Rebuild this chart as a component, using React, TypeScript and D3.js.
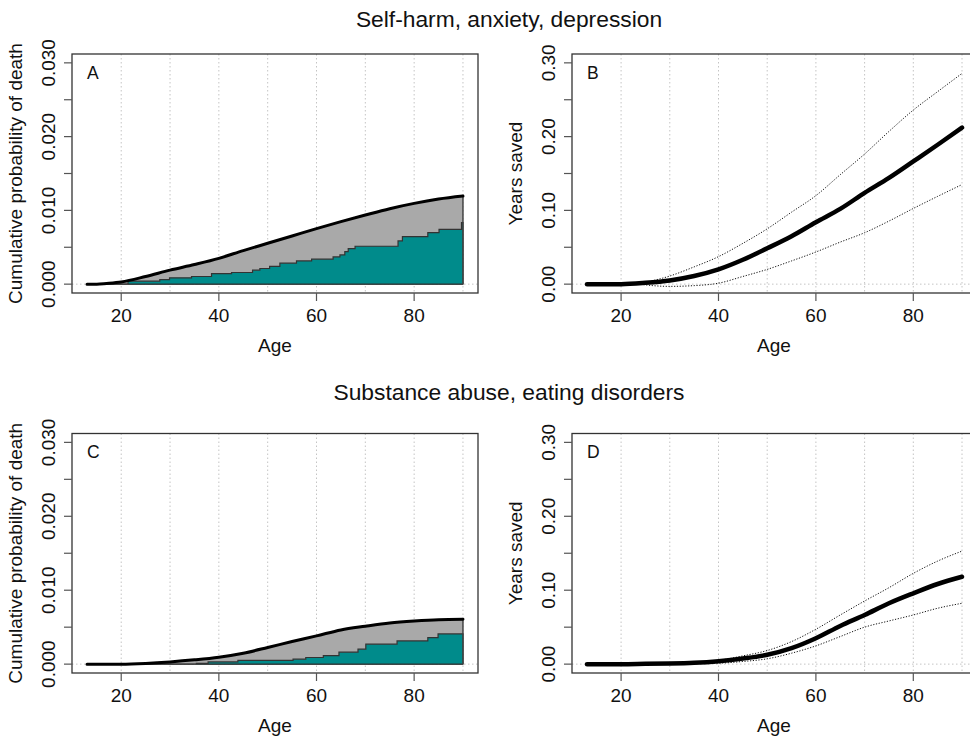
import * as d3 from "d3";

// ---- data ----
const ages = [13, 15, 17, 20, 25, 30, 35, 40, 45, 50, 55, 60, 65, 70, 75, 80, 85, 90];

// A: self-harm, anxiety, depression - cumulative probability of death
const probTotalA = [0, 0, 0.0001, 0.0003, 0.00104, 0.0019, 0.00266, 0.0035, 0.00455, 0.00554, 0.00653, 0.00752, 0.00847, 0.00937, 0.01023, 0.01095, 0.01153, 0.01194];
const stepAgesA = [13, 21.4, 27.9, 29.9, 34.4, 38.5, 42.6, 46.9, 48.4, 50.4, 52.5, 55.9, 59.0, 63.4, 64.8, 65.8, 66.5, 67.9, 76.7, 77.6, 82.8, 85.1, 89.7, 90];
const stepValsA = [0, 0.0004, 0.0006, 0.00086, 0.00104, 0.00144, 0.00158, 0.0019, 0.00212, 0.0024, 0.00284, 0.00315, 0.00338, 0.00369, 0.00396, 0.0044, 0.00482, 0.00514, 0.00586, 0.00644, 0.00698, 0.00743, 0.00833, 0.00833];

// B: years saved
const ciAgesB = [24, 25, 30, 35, 40, 45, 50, 55, 60, 65, 70, 75, 80, 85, 90];
const savedB = [0, 0, 0, 0, 0.0018, 0.005, 0.011, 0.02, 0.033, 0.0486, 0.065, 0.084, 0.102, 0.1237, 0.144, 0.1664, 0.189, 0.2123];
const upperB = [0, 0.002, 0.011, 0.0234, 0.0373, 0.0553, 0.075, 0.0976, 0.12, 0.1484, 0.1764, 0.207, 0.236, 0.261, 0.2857];
const lowerB = [0, -0.001, -0.003, -0.002, 0.0013, 0.0104, 0.02, 0.0315, 0.0436, 0.057, 0.0697, 0.0855, 0.1026, 0.119, 0.135];

// C: substance abuse, eating disorders
const probTotalC = [0, 0, 0, 0, 0.0001, 0.0003, 0.00058, 0.00094, 0.00148, 0.00225, 0.00306, 0.00382, 0.00463, 0.00513, 0.00557, 0.00584, 0.00602, 0.00607];
const stepAgesC = [13, 35.4, 37.8, 43.9, 55.2, 57.8, 61.4, 64.6, 68.5, 70.1, 76.5, 82.8, 84.9, 90];
const stepValsC = [0, 0.0001, 0.0003, 0.0005, 0.00067, 0.0009, 0.00116, 0.00162, 0.00202, 0.0027, 0.00314, 0.00359, 0.00409, 0.00409];

// D: years saved
const ciAgesD = [35, 40, 45, 50, 55, 60, 65, 70, 75, 80, 85, 90];
const savedD = [0, 0, 0, 0, 0.0004, 0.0008, 0.0018, 0.004, 0.0076, 0.0126, 0.0216, 0.035, 0.0517, 0.0665, 0.0823, 0.0958, 0.1084, 0.1182];
const upperD = [0.0018, 0.005, 0.0112, 0.0184, 0.0305, 0.0472, 0.0665, 0.0854, 0.1034, 0.1228, 0.1394, 0.1529];
const lowerD = [0.0018, 0.0014, 0.0036, 0.0072, 0.0148, 0.0247, 0.0373, 0.05, 0.0584, 0.0665, 0.0756, 0.0823];

const xTicks = [20, 40, 60, 80];
const gridAges = [20, 30, 40, 50, 60, 70, 80, 90];
const probTicks = [0, 0.005, 0.01, 0.015, 0.02, 0.025, 0.03];
const probLabels = [0, 0.01, 0.02, 0.03];
const savedTicks = [0, 0.05, 0.1, 0.15, 0.2, 0.25, 0.3];
const savedLabels = [0, 0.1, 0.2, 0.3];

const titles = ["Self-harm, anxiety, depression", "Substance abuse, eating disorders"];

const FONT = "'Liberation Sans', Arial, sans-serif";
const TEAL = "#008b8b";
const GREY = "#a9a9a9";

type Pt = [number, number];
const zip = (xs: number[], ys: number[]): Pt[] => xs.map((x, i) => [x, ys[i]]);

interface Frame {
  x0: number;
  x1: number;
  y0: number;
  y1: number;
  yMax: number;
  ticks: number[];
  labels: number[];
  fmt: (v: number) => string;
  yTitle: string;
  letter: string;
  children: (x: d3.ScaleLinear<number, number>, y: d3.ScaleLinear<number, number>) => any;
}

function Panel(f: Frame) {
  // R-style 4% padding around the data range
  const x = d3.scaleLinear().domain([13 - 0.04 * 77, 90 + 0.04 * 77]).range([f.x0, f.x1]);
  const y = d3.scaleLinear().domain([-0.04 * f.yMax, f.yMax * 1.04]).range([f.y1, f.y0]);
  const clipId = `clip-${f.letter}`;
  const midY = (f.y0 + f.y1) / 2;
  return (
    <g>
      <defs>
        <clipPath id={clipId}>
          <rect x={f.x0} y={f.y0} width={f.x1 - f.x0} height={f.y1 - f.y0} />
        </clipPath>
      </defs>
      <g clipPath={`url(#${clipId})`}>
        {gridAges.map((a) => (
          <line key={a} x1={x(a)} x2={x(a)} y1={f.y0} y2={f.y1} stroke="#c4c4c4" strokeWidth={1} strokeDasharray="1.5,2.5" />
        ))}
        <line x1={f.x0} x2={f.x1} y1={y(0)} y2={y(0)} stroke="#c4c4c4" strokeWidth={1} strokeDasharray="1.5,2.5" />
        {f.children(x, y)}
      </g>
      <rect x={f.x0} y={f.y0} width={f.x1 - f.x0} height={f.y1 - f.y0} fill="none" stroke="#333" strokeWidth={1.3} />
      {f.ticks.map((t) => (
        <line key={t} x1={f.x0 - 8} x2={f.x0} y1={y(t)} y2={y(t)} stroke="#555" strokeWidth={1.2} />
      ))}
      {f.labels.map((t) => (
        <text key={t} transform={`translate(${f.x0 - 17},${y(t)}) rotate(-90)`} textAnchor="middle" fontSize={19} fill="#111">
          {f.fmt(t)}
        </text>
      ))}
      <text transform={`translate(${f.x0 - 50},${midY}) rotate(-90)`} textAnchor="middle" fontSize={19} fill="#111">
        {f.yTitle}
      </text>
      {xTicks.map((t) => (
        <g key={t}>
          <line x1={x(t)} x2={x(t)} y1={f.y1} y2={f.y1 + 8} stroke="#555" strokeWidth={1.2} />
          <text x={x(t)} y={f.y1 + 29} textAnchor="middle" fontSize={19} fill="#111">
            {t}
          </text>
        </g>
      ))}
      <text x={(f.x0 + Math.min(f.x1, 970)) / 2 + (f.x1 > 970 ? 3 : 0)} y={f.y1 + 59} textAnchor="middle" fontSize={19} fill="#111">
        Age
      </text>
      <text x={f.x0 + 15} y={f.y0 + 24.5} fontSize={17.5} fill="#111">
        {f.letter}
      </text>
    </g>
  );
}

function probLayers(total: Pt[], steps: Pt[]) {
  return (x: d3.ScaleLinear<number, number>, y: d3.ScaleLinear<number, number>) => {
    const smooth = d3.curveMonotoneX;
    const greyArea = d3.area<Pt>().x((d) => x(d[0])).y0(y(0)).y1((d) => y(d[1])).curve(smooth);
    const tealArea = d3.area<Pt>().x((d) => x(d[0])).y0(y(0)).y1((d) => y(d[1])).curve(d3.curveStepAfter);
    const topLine = d3.line<Pt>().x((d) => x(d[0])).y((d) => y(d[1])).curve(smooth);
    const last = total[total.length - 1];
    return (
      <g>
        <path d={greyArea(total) ?? ""} fill={GREY} stroke="#444" strokeWidth={1} />
        <path d={tealArea(steps) ?? ""} fill={TEAL} stroke="#333" strokeWidth={1.2} />
        <line x1={x(last[0])} x2={x(last[0])} y1={y(0)} y2={y(last[1])} stroke="#444" strokeWidth={1} />
        <path d={topLine(total) ?? ""} fill="none" stroke="#000" strokeWidth={3} strokeLinecap="round" />
      </g>
    );
  };
}

function savedLayers(mean: Pt[], upper: Pt[], lower: Pt[]) {
  return (x: d3.ScaleLinear<number, number>, y: d3.ScaleLinear<number, number>) => {
    const line = d3.line<Pt>().x((d) => x(d[0])).y((d) => y(d[1])).curve(d3.curveMonotoneX);
    return (
      <g>
        <path d={line(upper) ?? ""} fill="none" stroke="#111" strokeWidth={1} strokeDasharray="1.2,1.6" />
        <path d={line(lower) ?? ""} fill="none" stroke="#111" strokeWidth={1} strokeDasharray="1.2,1.6" />
        <path d={line(mean) ?? ""} fill="none" stroke="#000" strokeWidth={4.5} strokeLinecap="round" />
      </g>
    );
  };
}

const fmtProb = d3.format(".3f");
const fmtSaved = d3.format(".2f");

export default function App() {
  const rows = [
    { y0: 54, y1: 293, title: titles[0], titleY: 27 },
    { y0: 433.5, y1: 673, title: titles[1], titleY: 400 },
  ];
  const left = [
    probLayers(zip(ages, probTotalA), zip(stepAgesA, stepValsA)),
    probLayers(zip(ages, probTotalC), zip(stepAgesC, stepValsC)),
  ];
  const right = [
    savedLayers(zip(ages, savedB), zip(ciAgesB, upperB), zip(ciAgesB, lowerB)),
    savedLayers(zip(ages, savedD), zip(ciAgesD, upperD), zip(ciAgesD, lowerD)),
  ];
  return (
    <div style={{ position: "absolute", left: 0, top: 0 }}>
      <svg width={970} height={736} style={{ display: "block", background: "#fff" }} fontFamily={FONT}>
        {rows.map((r, i) => (
          <g key={i}>
            <text x={509} y={r.titleY} textAnchor="middle" fontSize={22.8} fill="#111">
              {r.title}
            </text>
            <Panel
              x0={72}
              x1={478}
              y0={r.y0}
              y1={r.y1}
              yMax={0.03}
              ticks={probTicks}
              labels={probLabels}
              fmt={fmtProb}
              yTitle="Cumulative probability of death"
              letter={i === 0 ? "A" : "C"}
              children={left[i]}
            />
            <Panel
              x0={572}
              x1={977}
              y0={r.y0}
              y1={r.y1}
              yMax={0.3}
              ticks={savedTicks}
              labels={savedLabels}
              fmt={fmtSaved}
              yTitle="Years saved"
              letter={i === 0 ? "B" : "D"}
              children={right[i]}
            />
          </g>
        ))}
      </svg>
    </div>
  );
}
